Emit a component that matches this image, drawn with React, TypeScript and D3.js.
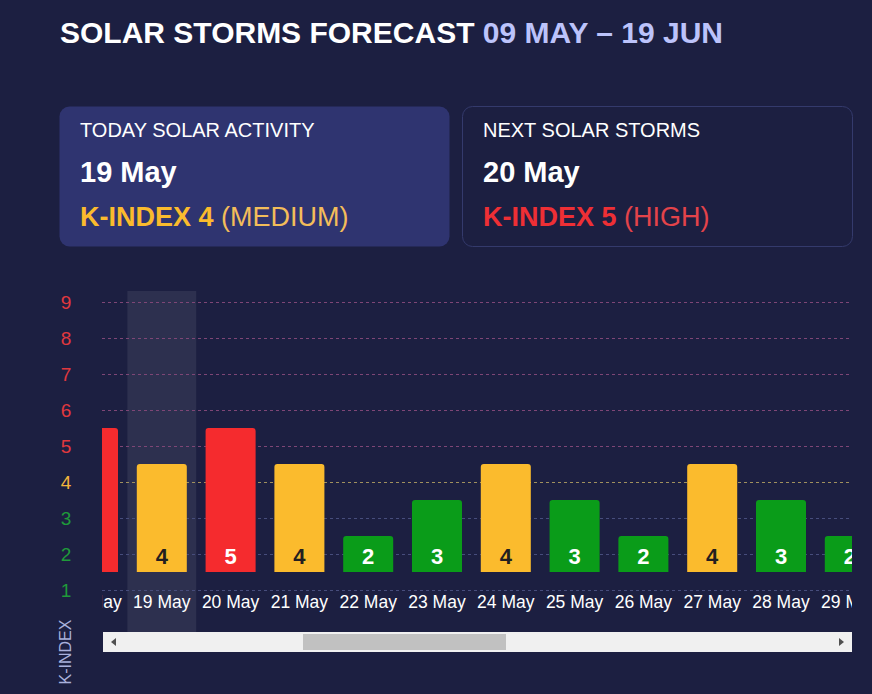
import React, {useRef, useEffect} from 'react'
import * as d3 from 'd3'

const days = ['18 May', '19 May', '20 May', '21 May', '22 May', '23 May', '24 May', '25 May', '26 May', '27 May', '28 May', '29 May']
const kIndex = [5, 4, 5, 4, 2, 3, 4, 3, 2, 4, 3, 2]
const levels = [1, 2, 3, 4, 5, 6, 7, 8, 9]
const today = '19 May'

const W = 872
const H = 694
const BG = '#1c1f41'

const levelColor = (k: number) => (k >= 5 ? '#f52b2e' : k === 4 ? '#fbbb2d' : '#0a9c19')
const axisColor = (k: number) => (k >= 5 ? '#e0383e' : k === 4 ? '#f3b43c' : '#1f9a3a')
const gridColor = (k: number) => (k >= 5 ? '#7e4676' : k === 4 ? '#a0905e' : '#474d7c')

export default function App() {
  const ref = useRef<SVGSVGElement>(null)

  useEffect(() => {
    const svg = d3.select(ref.current)
    svg.selectAll('*').remove()

    const font = 'Liberation Sans, Arial, sans-serif'
    svg.append('rect').attr('width', W).attr('height', H).attr('fill', BG)

    // title
    const title = svg
      .append('text')
      .attr('x', 60)
      .attr('y', 43)
      .attr('font-family', font)
      .attr('font-weight', 'bold')
      .attr('font-size', 30)
    title.append('tspan').attr('fill', '#ffffff').text('SOLAR STORMS FORECAST ')
    title.append('tspan').attr('fill', '#bcc3fb').text('09 MAY – 19 JUN')

    // cards
    const cards = [
      {x: 59, fill: '#2f3470', stroke: 'none', head: 'TODAY SOLAR ACTIVITY', day: '19 May', k: 4, word: '(MEDIUM)', c1: '#fbbb2d', c2: '#f3bd5a'},
      {x: 462, fill: BG, stroke: '#343a6c', head: 'NEXT SOLAR STORMS', day: '20 May', k: 5, word: '(HIGH)', c1: '#ee2f35', c2: '#e4434a'}
    ]
    cards.forEach(c => {
      const g = svg.append('g').attr('transform', `translate(${c.x},106)`)
      g.append('rect')
        .attr('x', 0.5)
        .attr('y', 0.5)
        .attr('width', 390)
        .attr('height', 140)
        .attr('rx', 10)
        .attr('fill', c.fill)
        .attr('stroke', c.stroke)
      g.append('text')
        .attr('x', 21)
        .attr('y', 31)
        .attr('fill', '#ffffff')
        .attr('font-family', font)
        .attr('font-size', 20)
        .text(c.head)
      g.append('text')
        .attr('x', 21)
        .attr('y', 76)
        .attr('fill', '#ffffff')
        .attr('font-family', font)
        .attr('font-weight', 'bold')
        .attr('font-size', 29)
        .text(c.day)
      const t = g
        .append('text')
        .attr('x', 21)
        .attr('y', 120)
        .attr('font-family', font)
        .attr('font-size', 27)
      t.append('tspan').attr('fill', c.c1).attr('font-weight', 'bold').text(`K-INDEX ${c.k} `)
      t.append('tspan').attr('fill', c.c2).text(c.word)
    })

    // chart
    const left = 102
    const right = 852
    const y = d3.scaleLinear().domain([1, 9]).range([590, 302])
    const stepW = 68.8
    const x = d3
      .scaleBand()
      .domain(days)
      .range([58.6, 58.6 + stepW * days.length])
      .paddingInner(0.273)
      .paddingOuter(0.1365)
    const step = x.step()
    const off = 18

    svg
      .append('defs')
      .append('clipPath')
      .attr('id', 'plot')
      .append('rect')
      .attr('x', left)
      .attr('y', 280)
      .attr('width', right - left)
      .attr('height', 360)

    const plot = svg.append('g').attr('clip-path', 'url(#plot)')

    // today highlight
    plot
      .append('rect')
      .attr('x', (x(today) as number) + x.bandwidth() / 2 - step / 2)
      .attr('y', 291)
      .attr('width', step)
      .attr('height', 341)
      .attr('fill', '#ffffff')
      .attr('fill-opacity', 0.08)

    // grid
    plot
      .selectAll('line.grid')
      .data(levels)
      .enter()
      .append('line')
      .attr('x1', left)
      .attr('x2', right)
      .attr('y1', d => y(d) + 0.5)
      .attr('y2', d => y(d) + 0.5)
      .attr('stroke', d => gridColor(d))
      .attr('stroke-dasharray', '3,3')
      .attr('stroke-width', 1)

    // bars
    const bars = plot
      .selectAll('g.bar')
      .data(days.map((d, i) => ({day: d, k: kIndex[i]})))
      .enter()
      .append('g')
    bars
      .append('path')
      .attr('fill', d => levelColor(d.k))
      .attr('d', d => {
        const x0 = x(d.day) as number
        const w = x.bandwidth()
        const top = y(d.k) - off
        const bot = y(1) - off
        const r = 3
        return `M${x0},${bot}V${top + r}Q${x0},${top} ${x0 + r},${top}H${x0 + w - r}Q${x0 + w},${top} ${x0 + w},${top + r}V${bot}Z`
      })
    bars
      .append('text')
      .attr('x', d => (x(d.day) as number) + x.bandwidth() / 2)
      .attr('y', y(1) - off - 8)
      .attr('text-anchor', 'middle')
      .attr('font-family', font)
      .attr('font-weight', 'bold')
      .attr('font-size', 22)
      .attr('fill', d => (d.k === 4 ? '#231f20' : '#ffffff'))
      .text(d => d.k)

    bars
      .append('text')
      .attr('x', d => (x(d.day) as number) + x.bandwidth() / 2)
      .attr('y', 608)
      .attr('text-anchor', 'middle')
      .attr('font-family', font)
      .attr('font-size', 17.5)
      .attr('fill', '#ffffff')
      .text(d => d.day)

    // y axis labels
    svg
      .selectAll('text.ylab')
      .data(levels)
      .enter()
      .append('text')
      .attr('x', 66)
      .attr('y', d => y(d) + 7)
      .attr('text-anchor', 'middle')
      .attr('font-family', font)
      .attr('font-size', 19)
      .attr('fill', d => axisColor(d))
      .text(d => d)

    svg
      .append('text')
      .attr('transform', 'translate(71,652) rotate(-90)')
      .attr('text-anchor', 'middle')
      .attr('font-family', font)
      .attr('font-size', 16)
      .attr('fill', '#a9b0dc')
      .text('K-INDEX')

    // scrollbar
    const sb = svg.append('g').attr('transform', 'translate(103,632)')
    sb.append('rect').attr('width', 749).attr('height', 20).attr('fill', '#f0f0f0')
    sb.append('rect').attr('x', 200).attr('y', 2).attr('width', 203).attr('height', 16).attr('fill', '#c1c1c1')
    sb.append('path').attr('d', 'M8,10L13,6V14Z').attr('fill', '#505050')
    sb.append('path').attr('d', 'M741,10L736,6V14Z').attr('fill', '#505050')
  }, [])

  return (
    <svg
      ref={ref}
      width={W}
      height={H}
      style={{position: 'absolute', left: 0, top: 0, display: 'block'}}
    />
  )
}
